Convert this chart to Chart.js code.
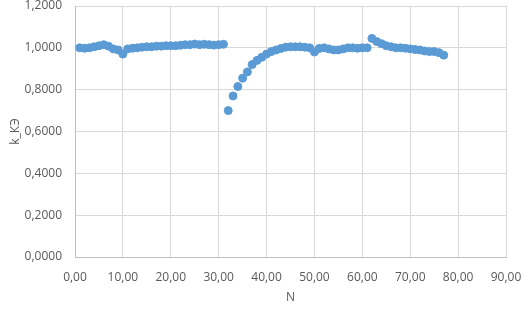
<!DOCTYPE html>
<html>
<head>
<meta charset="utf-8">
<script src="https://cdn.jsdelivr.net/npm/chart.js@4/dist/chart.umd.min.js"></script>
<style>
  html, body { margin: 0; padding: 0; background: #fff; }
  #wrap { width: 529px; height: 309px; }
</style>
</head>
<body>
<div id="wrap"><canvas id="c" width="529" height="309"></canvas></div>
<script>
// N = 1..77, one point per step
const nValues = [];
for (let i = 1; i <= 77; i++) nValues.push(i);

const kValues = [
  1.000, 0.998, 1.000, 1.005, 1.010, 1.015, 1.008, 0.995, 0.990, 0.970,
  0.995, 0.998, 1.000, 1.003, 1.005, 1.005, 1.008, 1.008, 1.010, 1.010,
  1.010, 1.012, 1.015, 1.015, 1.018, 1.015, 1.017, 1.015, 1.013, 1.015,
  1.017,
  0.700, 0.770, 0.815, 0.855, 0.885, 0.920, 0.940, 0.955, 0.970, 0.982,
  0.990, 0.997, 1.003, 1.005, 1.005, 1.005, 1.003, 1.000, 0.980, 0.997,
  1.000, 0.995, 0.990, 0.990, 0.995, 1.000, 1.000, 0.998, 1.000, 1.000,
  1.045, 1.030, 1.020, 1.010, 1.005, 1.000, 1.000, 0.998, 0.995, 0.992,
  0.990, 0.985, 0.982, 0.982, 0.977, 0.965
];

const xTicks = [0, 10, 20, 30, 40, 50, 60, 70, 80, 90];
const yTicks = [0, 0.2, 0.4, 0.6, 0.8, 1.0, 1.2];

const points = nValues.map((n, i) => ({ x: n, y: kValues[i] }));

const fontFamily = "'Open Sans', 'Liberation Sans', sans-serif";
const textColor = '#595959';

new Chart(document.getElementById('c'), {
  type: 'scatter',
  data: {
    datasets: [{
      data: points,
      backgroundColor: '#5b9bd5',
      borderColor: '#5b9bd5',
      pointRadius: 4,
      pointHoverRadius: 4
    }]
  },
  options: {
    responsive: false,
    animation: false,
    layout: { padding: { left: 8, right: 23, top: 6, bottom: 4 } },
    plugins: { legend: { display: false }, tooltip: { enabled: false } },
    scales: {
      x: {
        type: 'linear',
        min: 0, max: 90,
        afterBuildTicks: s => { s.ticks = xTicks.map(v => ({ value: v })); },
        afterFit: s => { s.height = 48; s.paddingRight = 0; s.paddingLeft = 0; },
        grid: { color: '#d9d9d9', drawTicks: false },
        border: { color: '#bfbfbf' },
        ticks: {
          color: textColor, padding: 13,
          font: { family: fontFamily, size: 12 },
          callback: v => v.toFixed(2).replace('.', ',')
        },
        title: {
          display: true, text: 'N', color: textColor, padding: { top: 3, bottom: 0 },
          font: { family: fontFamily, size: 12 }
        }
      },
      y: {
        min: 0, max: 1.2,
        afterBuildTicks: s => { s.ticks = yTicks.map(v => ({ value: v })); },
        afterFit: s => { s.width = 67; s.paddingTop = 0; s.paddingBottom = 0; },
        grid: { color: '#d9d9d9', drawTicks: false },
        border: { color: '#bfbfbf' },
        ticks: {
          color: textColor, padding: 13,
          font: { family: fontFamily, size: 12 },
          callback: v => v.toFixed(4).replace('.', ',')
        },
        title: {
          display: true, text: 'k_КЭ', color: textColor, padding: { top: 0, bottom: 2 },
          font: { family: fontFamily, size: 12 }
        }
      }
    }
  }
});
</script>
</body>
</html>
